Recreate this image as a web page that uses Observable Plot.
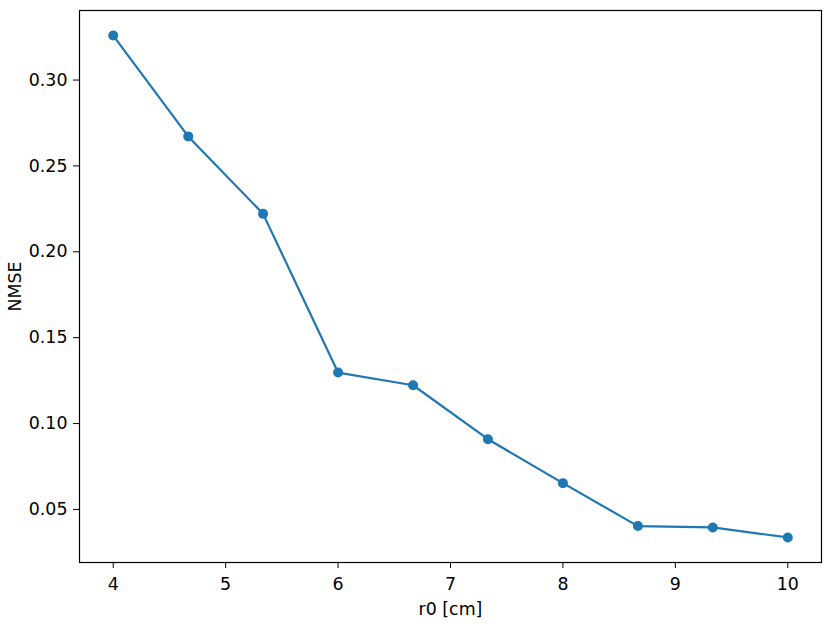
<!DOCTYPE html>
<html>
<head>
<meta charset="utf-8">
<script src="https://cdn.jsdelivr.net/npm/d3@7"></script>
<script src="https://cdn.jsdelivr.net/npm/@observablehq/plot@0.6"></script>
<style>
  html, body { margin: 0; padding: 0; background: #fff; }
</style>
</head>
<body>
<div id="chart"></div>
<script>
const r0 = [4, 4.667, 5.333, 6, 6.667, 7.333, 8, 8.667, 9.333, 10];
const nmse = [0.3259, 0.2672, 0.2221, 0.1297, 0.1223, 0.0909, 0.0653, 0.0403, 0.0395, 0.0337];
const xTicks = [4, 5, 6, 7, 8, 9, 10];
const yTicks = [0.05, 0.10, 0.15, 0.20, 0.25, 0.30];

const data = r0.map((x, i) => ({x, y: nmse[i]}));
const color = "#1f77b4";

const chart = Plot.plot({
  width: 830,
  height: 626,
  marginLeft: 79,
  marginRight: 9,
  marginTop: 10,
  marginBottom: 64,
  style: {fontFamily: "DejaVu Sans", fontSize: "17.4px", color: "#000", background: "#fff"},
  x: {domain: [3.7, 10.3]},
  y: {domain: [0.0191, 0.3405]},
  marks: [
    Plot.axisX({ticks: xTicks, tickFormat: d => String(d), tickSize: 6, tickPadding: 9, fontSize: 17.4,
      label: "r0 [cm]", labelAnchor: "center", labelArrow: "none", labelOffset: 52}),
    Plot.axisY({ticks: yTicks, tickFormat: d3.format(".2f"), tickSize: 6, tickPadding: 6, fontSize: 17.4,
      label: "NMSE", labelAnchor: "center", labelArrow: "none", labelOffset: 71}),
    Plot.line(data, {x: "x", y: "y", stroke: color, strokeWidth: 2.2}),
    Plot.dot(data, {x: "x", y: "y", fill: color, r: 5, stroke: "none"}),
    Plot.frame({stroke: "#000", strokeWidth: 1.2})
  ]
});
document.getElementById("chart").appendChild(chart);
</script>
</body>
</html>
